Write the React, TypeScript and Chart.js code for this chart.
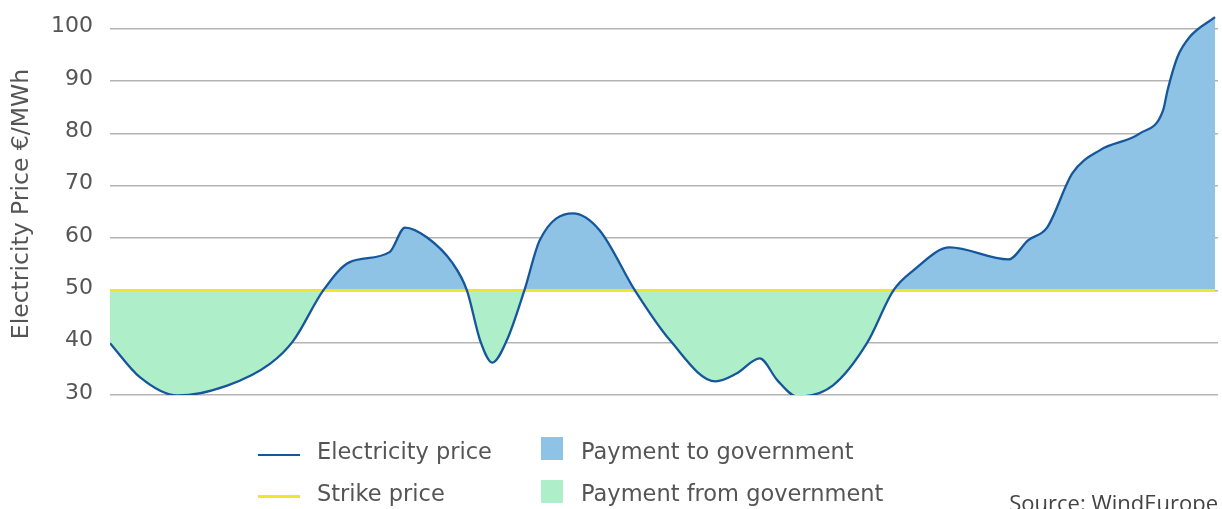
import React, { useEffect, useRef } from "react";
import { Chart, registerables } from "chart.js";

Chart.register(...registerables);

// time position (0–100 across the period) and electricity price (€/MWh)
const times = [0, 2.7, 6.1, 10.6, 14.5, 16.6, 19.3, 21.7, 25.3, 26.7, 28.7, 31.0, 32.3, 33.5, 34.6, 35.9, 37.5, 38.9, 41.9, 44.3, 47.5, 50.7, 54.8, 56.7, 58.8, 60.4, 62.2, 65.4, 68.5, 70.9, 72.7, 76.0, 81.3, 83.1, 84.8, 87.1, 89.6, 93.2, 95.3, 95.7, 96.6, 97.7, 100];
const prices = [39.9, 33.4, 29.9, 31.8, 36.0, 40.4, 50, 55.4, 57.3, 62.0, 60.1, 55.2, 50, 40.4, 36.2, 40.4, 50, 59.6, 64.7, 61.5, 50, 40.4, 32.6, 34.1, 37.0, 32.8, 29.7, 31.8, 39.9, 50, 53.8, 58.2, 55.9, 59.6, 62.0, 72.4, 76.8, 80.0, 84.4, 88.2, 94.6, 98.4, 102.2];
const strikePrice = 50;
const strikeTimes = [0, 100];
const yTicks = [30, 40, 50, 60, 70, 80, 90, 100];

const yTitle = "Electricity Price €/MWh";
const legendLabels = ["Electricity price", "Strike price", "Payment to government", "Payment from government"];
const sourceText = "Source: WindEurope";

const BLUE_LINE = "#15579a";
const YELLOW = "#efe52a";
const BLUE_FILL = "#8ec3e5";
const GREEN_FILL = "#aeeec8";
const TEXT = "#555555";
const FONT = "'DejaVu Sans', sans-serif";

export default function App() {
  const ref = useRef<HTMLCanvasElement | null>(null);

  useEffect(() => {
    if (!ref.current) return;
    const chart = new Chart(ref.current, {
      type: "line",
      data: {
        datasets: [
          {
            label: legendLabels[0],
            data: times.map((t, i) => ({ x: t, y: prices[i] })),
            borderColor: BLUE_LINE,
            borderWidth: 2.3,
            pointRadius: 0,
            cubicInterpolationMode: "monotone",
            fill: { target: { value: strikePrice }, above: BLUE_FILL, below: GREEN_FILL },
          },
          {
            label: legendLabels[1],
            data: strikeTimes.map((t) => ({ x: t, y: strikePrice })),
            borderColor: YELLOW,
            borderWidth: 2.5,
            pointRadius: 0,
            fill: false,
          },
        ],
      },
      options: {
        animation: false,
        responsive: false,
        layout: { padding: { left: 8, right: 4, top: 13, bottom: 114 } },
        plugins: {
          legend: { display: false },
          tooltip: { enabled: false },
          filler: { drawTime: "beforeDatasetsDraw" },
        },
        scales: {
          x: {
            type: "linear",
            min: 0,
            max: 100.27,
            display: false,
          },
          y: {
            min: 30,
            max: 103,
            afterBuildTicks: (scale: any) => {
              scale.ticks = yTicks.map((v) => ({ value: v }));
            },
            afterFit: (scale: any) => {
              scale.width = 102;
              scale.paddingTop = 0;
              scale.paddingBottom = 0;
            },
            border: { display: false },
            grid: { color: "#b4b4b4", lineWidth: 1.5, drawTicks: false },
            ticks: { color: TEXT, padding: 17, labelOffset: -2, font: { family: FONT, size: 22 } },
            title: {
              display: true,
              text: yTitle,
              color: TEXT,
              padding: { top: 0, bottom: 0 },
              font: { family: FONT, size: 23.5 },
            },
          },
        },
      },
    });
    return () => chart.destroy();
  }, []);

  const textStyle: React.CSSProperties = {
    position: "absolute",
    fontFamily: FONT,
    fontSize: 22.5,
    lineHeight: "26px",
    color: TEXT,
    whiteSpace: "nowrap",
  };

  return (
    <div style={{ position: "absolute", left: 0, top: 0, width: 1222, height: 509, overflow: "hidden", background: "#fff" }}>
      <canvas ref={ref} width={1222} height={509} style={{ position: "absolute", left: 0, top: 0 }} />
      <div style={{ position: "absolute", left: 258, top: 454, width: 42, height: 2, background: BLUE_LINE }} />
      <div style={{ ...textStyle, left: 317, top: 438 }}>{legendLabels[0]}</div>
      <div style={{ position: "absolute", left: 258, top: 495, width: 42, height: 2.5, background: YELLOW }} />
      <div style={{ ...textStyle, left: 317, top: 480 }}>{legendLabels[1]}</div>
      <div style={{ position: "absolute", left: 541, top: 437, width: 22, height: 23, background: BLUE_FILL }} />
      <div style={{ ...textStyle, left: 581, top: 438 }}>{legendLabels[2]}</div>
      <div style={{ position: "absolute", left: 541, top: 480, width: 22, height: 23, background: GREEN_FILL }} />
      <div style={{ ...textStyle, left: 581, top: 480 }}>{legendLabels[3]}</div>
      <div
        style={{
          position: "absolute",
          right: 4,
          top: 491,
          fontFamily: "'Open Sans', sans-serif",
          fontSize: 22,
          lineHeight: "22px",
          color: "#444",
          whiteSpace: "nowrap",
        }}
      >
        {sourceText}
      </div>
    </div>
  );
}
